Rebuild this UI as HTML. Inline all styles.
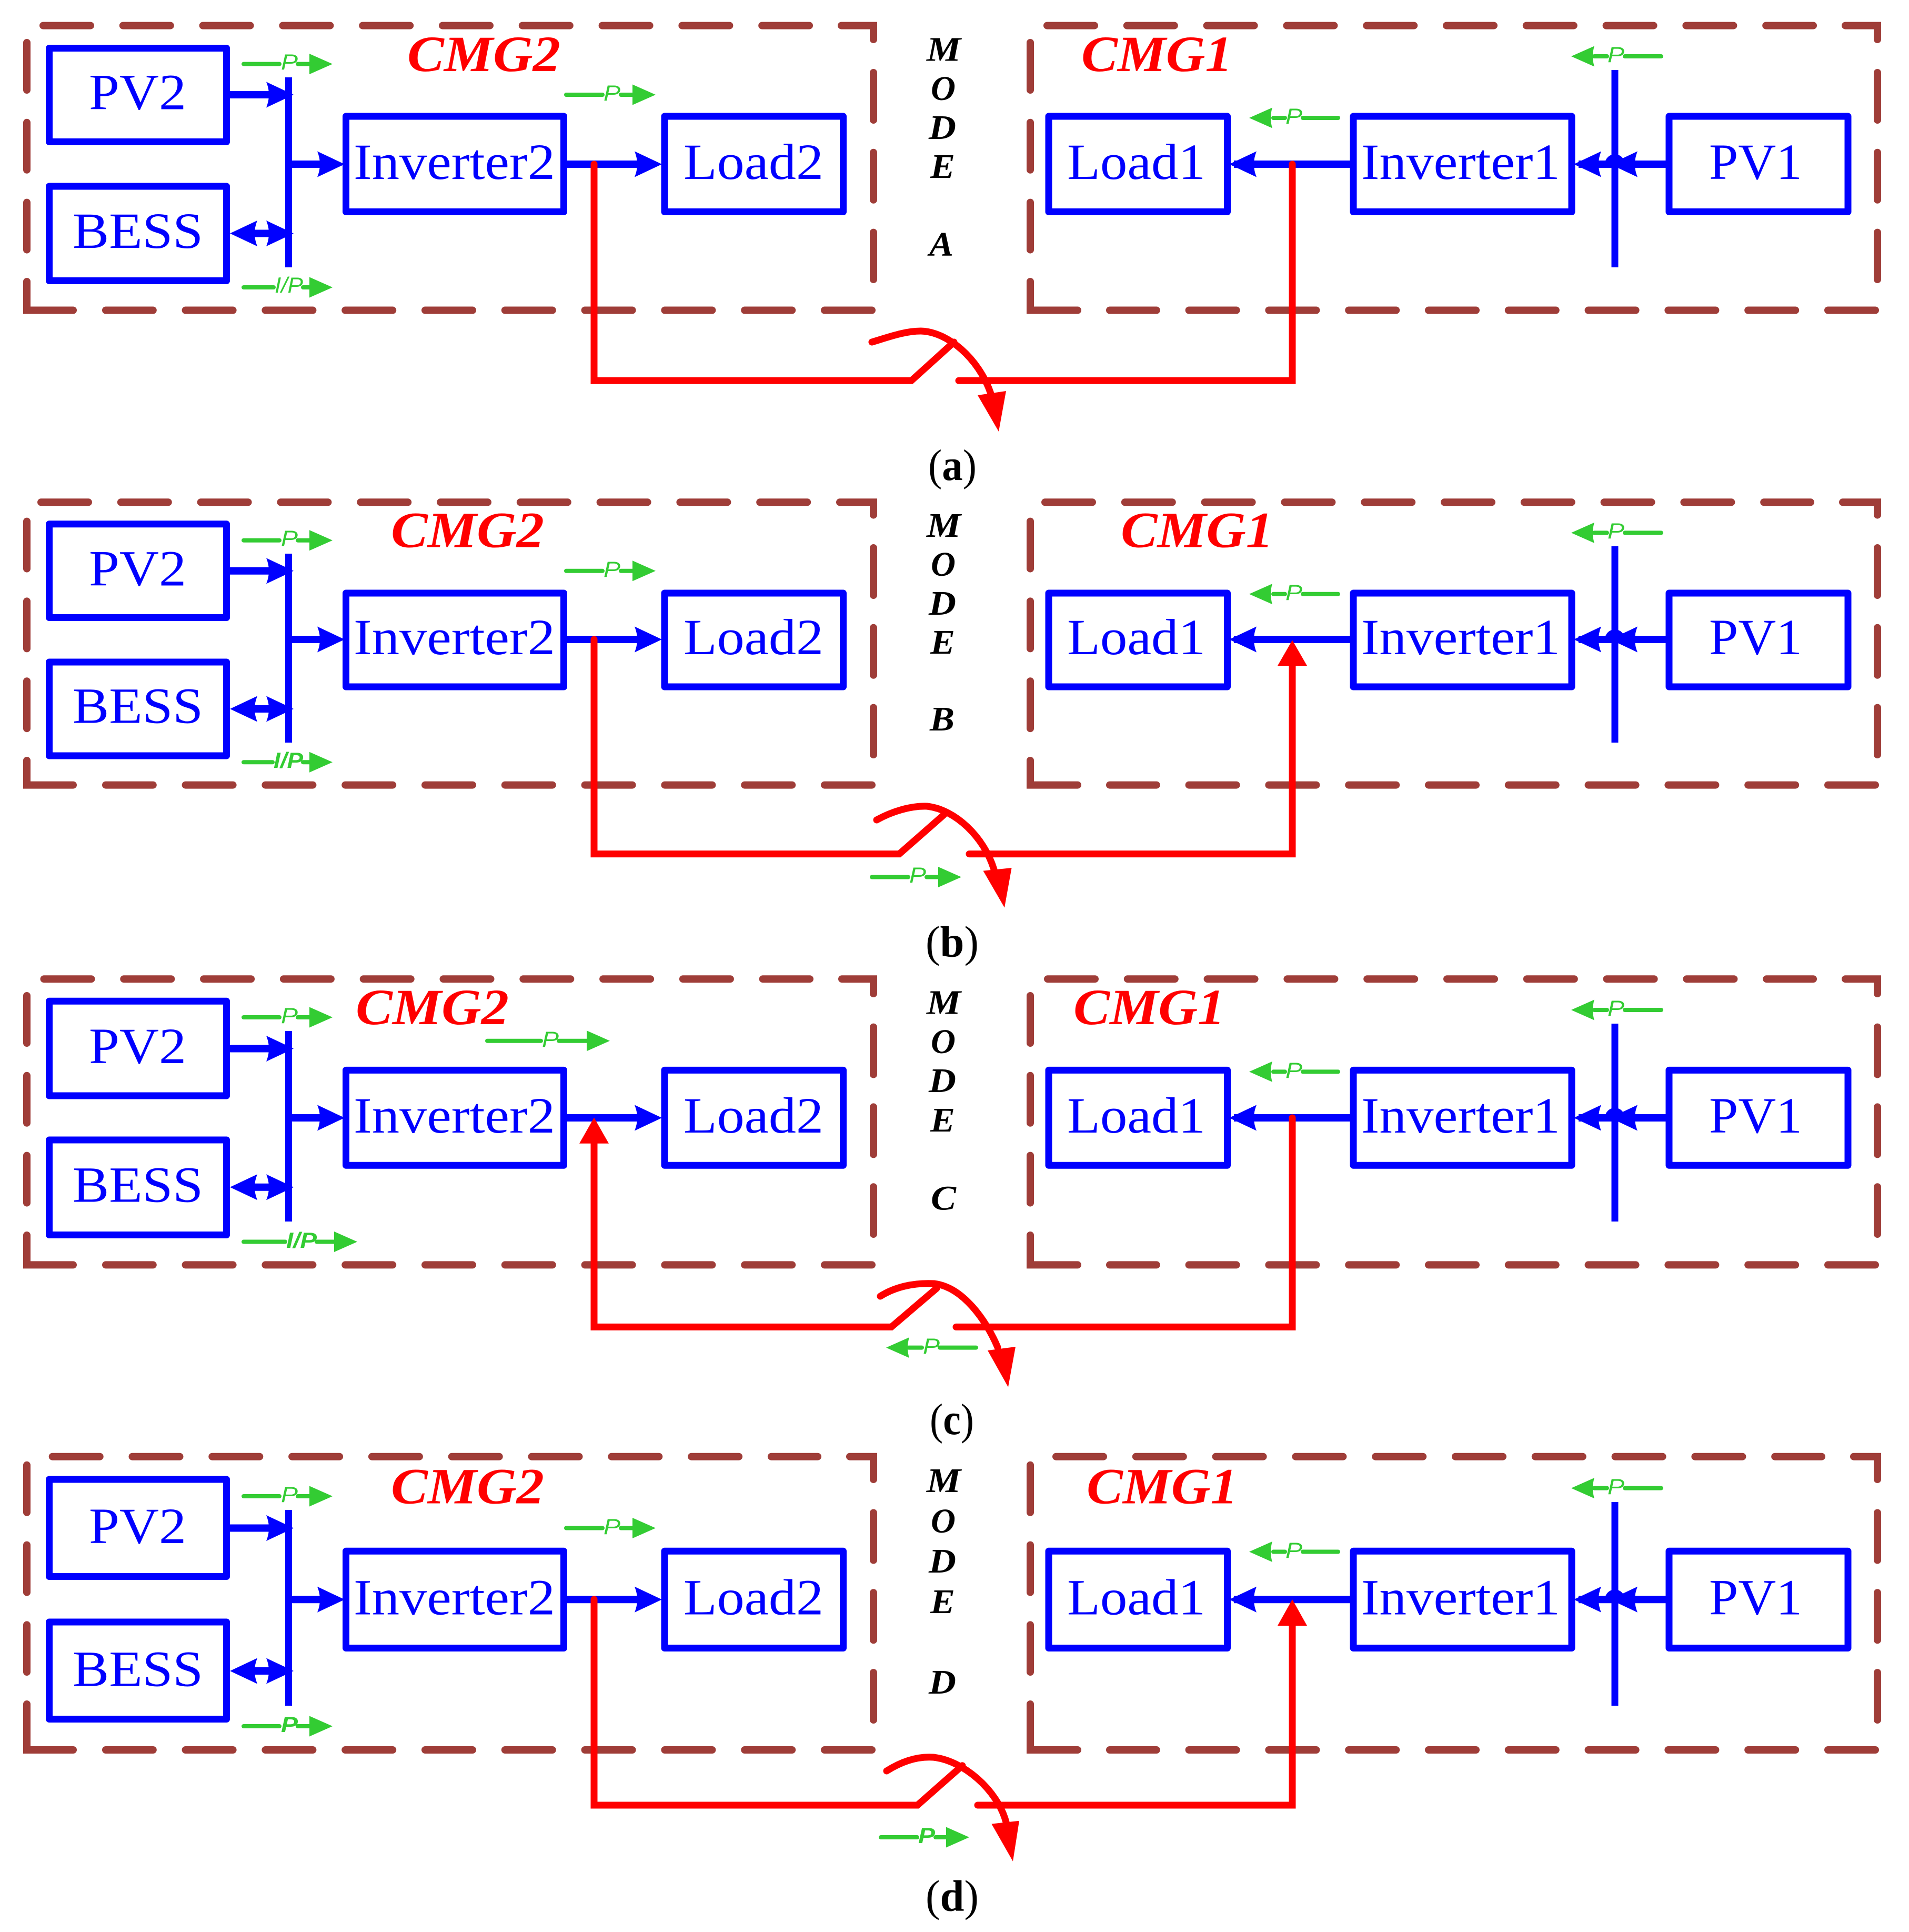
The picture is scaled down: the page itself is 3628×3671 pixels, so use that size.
<!DOCTYPE html>
<html><head><meta charset="utf-8"><title>Modes</title>
<style>html,body{margin:0;padding:0;background:#fff}svg{display:block}
.d,.c{fill:none;stroke:#9f3d38;stroke-width:14;stroke-linecap:round}
.d{stroke-dasharray:90 61.8}
.c{stroke-linejoin:miter;stroke-linecap:round}
.b{fill:none;stroke:#00f;stroke-width:13;stroke-linejoin:round}
.s{fill:none;stroke:#00f;stroke-width:14}
.bus{fill:none;stroke:#00f;stroke-width:13;stroke-linecap:butt}
.r{fill:none;stroke:#f00;stroke-width:13;stroke-linejoin:miter;stroke-linecap:round}
.g{fill:none;stroke:#3c3;stroke-width:8;stroke-linecap:round}
text{font-family:"Liberation Serif",serif}
.t{fill:#00f;font-size:96px}
.cm{fill:#f00;font-size:96px;font-weight:bold;font-style:italic}
.m{fill:#000;font-size:66px;font-weight:bold;font-style:italic}
.cap{fill:#000;font-size:84px}
.p{fill:#3c3;font-size:42px;font-style:italic;font-family:"Liberation Sans",sans-serif}
.pb{fill:#3c3;font-size:42px;font-style:italic;font-weight:bold;font-family:"Liberation Sans",sans-serif}
</style></head><body>
<svg xmlns="http://www.w3.org/2000/svg" width="3628" height="3671" viewBox="0 0 3628 3671">
<rect width="3628" height="3671" fill="#fff"/>
<defs>
<path id="h" d="M0 0L-52-24.5Q-42 0-52 24.5Z" fill="#00f"/>
<path id="gr" d="M0 0L-44-19.5V19.5Z" fill="#3c3"/>
<path id="gl" d="M0 0L44-19.5Q38 0 44 19.5Z" fill="#3c3"/>
</defs>

<!-- PANEL A -->
<g>
<path class="d" d="M1657 589.5H201"/><path class="c" d="M139 589.5H51V535"/><path class="d" d="M51 81V475"/>
<path class="d" d="M82 48.6H1538"/><path class="c" d="M1599 48.6H1660V75"/><path class="d" d="M1660 138V531"/>
<path class="d" d="M3564 589.5H2109"/><path class="c" d="M2048 589.5H1958V535"/><path class="d" d="M1958 81V475"/>
<path class="d" d="M1990 48.6H3446"/><path class="c" d="M3507 48.6H3568V75"/><path class="d" d="M3568 138V531"/>
<rect class="b" x="93.5" y="91.5" width="337" height="178"/><rect class="b" x="93.5" y="354" width="337" height="179.5"/>
<rect class="b" x="657.5" y="221" width="414" height="181.5"/><rect class="b" x="1263" y="221" width="339.5" height="181.5"/>
<rect class="b" x="1993" y="221" width="339.5" height="181.5"/><rect class="b" x="2572" y="221" width="415" height="181.5"/><rect class="b" x="3172" y="221" width="340" height="181.5"/>
<path class="bus" d="M548.5 147V508M3069 133V508"/>
<path class="s" d="M437 180H515M555 312H610M470 443.5H520M1078 312H1215M2345 312H2566M3000 312H3070M3100 312H3166"/>
<use href="#h" transform="translate(558 180)"/><use href="#h" transform="translate(655 312)"/>
<use href="#h" transform="translate(558 443.5)"/><use href="#h" transform="translate(437 443.5) scale(-1 1)"/>
<use href="#h" transform="translate(1258 312)"/><use href="#h" transform="translate(2336 312) scale(-1 1)"/>
<use href="#h" transform="translate(2991 312) scale(-1 1)"/><use href="#h" transform="translate(3060 312) scale(-1 1)"/>
<path d="M3050 312A19 19 0 0 1 3088 312Z" fill="#00f"/>
<text class="t" x="169" y="207.5" textLength="185" lengthAdjust="spacingAndGlyphs">PV2</text>
<text class="t" x="138" y="471" textLength="248" lengthAdjust="spacingAndGlyphs">BESS</text>
<text class="t" x="672" y="340" textLength="383" lengthAdjust="spacingAndGlyphs">Inverter2</text>
<text class="t" x="1299" y="340" textLength="266" lengthAdjust="spacingAndGlyphs">Load2</text>
<text class="t" x="2028" y="340" textLength="263" lengthAdjust="spacingAndGlyphs">Load1</text>
<text class="t" x="2587" y="340" textLength="378" lengthAdjust="spacingAndGlyphs">Inverter1</text>
<text class="t" x="3248" y="340" textLength="177" lengthAdjust="spacingAndGlyphs">PV1</text>
<text class="cm" x="774" y="135" textLength="291" lengthAdjust="spacingAndGlyphs">CMG2</text>
<text class="cm" x="2055" y="135" textLength="287" lengthAdjust="spacingAndGlyphs">CMG1</text>
<text class="m" x="1761" y="115.6" textLength="65" lengthAdjust="spacingAndGlyphs">M</text>
<text class="m" x="1769" y="190" textLength="47" lengthAdjust="spacingAndGlyphs">O</text>
<text class="m" x="1765" y="264" textLength="52" lengthAdjust="spacingAndGlyphs">D</text>
<text class="m" x="1768" y="338" textLength="47" lengthAdjust="spacingAndGlyphs">E</text>
<text class="m" x="1766" y="486" textLength="46" lengthAdjust="spacingAndGlyphs">A</text>
<path class="g" d="M463 121.6H531M566 121.6H590M463 546H520M576 546H590M1076 180H1145M1180 180H1203M2420 224H2442M2476 224H2543M3030 107H3054M3088 107H3157"/>
<use href="#gr" transform="translate(632 121.6)"/><use href="#gr" transform="translate(632 546)"/><use href="#gr" transform="translate(1246 180)"/>
<use href="#gl" transform="translate(2374 224)"/><use href="#gl" transform="translate(2986 107)"/>
<text class="p" x="534" y="132" textLength="32" lengthAdjust="spacingAndGlyphs">P</text>
<text class="p" x="522" y="556" textLength="54" lengthAdjust="spacingAndGlyphs">I/P</text>
<text class="p" x="1147" y="191" textLength="32" lengthAdjust="spacingAndGlyphs">P</text>
<text class="p" x="2443" y="235" textLength="32" lengthAdjust="spacingAndGlyphs">P</text>
<text class="p" x="3055" y="118" textLength="32" lengthAdjust="spacingAndGlyphs">P</text>
<path class="r" d="M1129 312V723.3H1732L1813 650"/><path class="r" d="M1822 723.3H2456V312"/>
<path class="r" d="M1657 650C1690 640 1720 629 1750 629C1800 630 1860 680 1883 748"/>
<path d="M1858 751L1898 820L1912 743Z" fill="#f00"/>
<text class="cap" x="1764" y="912" textLength="92" lengthAdjust="spacingAndGlyphs">(<tspan font-weight="bold">a</tspan>)</text>
</g>

<!-- PANEL B -->
<g>
<path class="d" d="M1657 1491.6H201"/><path class="c" d="M139 1491.6H51V1445"/><path class="d" d="M51 990.6V1385"/>
<path class="d" d="M78 954.3H1535"/><path class="c" d="M1596 954.3H1660V978.6"/><path class="d" d="M1660 1041V1434"/>
<path class="d" d="M3564 1491.6H2109"/><path class="c" d="M2048 1491.6H1958V1445"/><path class="d" d="M1958 990.6V1385"/>
<path class="d" d="M1986 954.3H3441"/><path class="c" d="M3502 954.3H3568V978.6"/><path class="d" d="M3568 1041V1434"/>
<rect class="b" x="93.5" y="995.8" width="337" height="177.7"/><rect class="b" x="93.5" y="1258" width="337" height="178"/>
<rect class="b" x="657.5" y="1127" width="414" height="178"/><rect class="b" x="1263" y="1127" width="339.5" height="178"/>
<rect class="b" x="1993" y="1127" width="339.5" height="178"/><rect class="b" x="2572" y="1127" width="415" height="178"/><rect class="b" x="3172" y="1127" width="340" height="178"/>
<path class="bus" d="M548.5 1052V1411M3069 1038V1411"/>
<path class="s" d="M437 1084.8H515M555 1215H610M470 1347H520M1078 1215H1215M2345 1215H2566M3000 1215H3070M3100 1215H3166"/>
<use href="#h" transform="translate(558 1084.8)"/><use href="#h" transform="translate(655 1215)"/>
<use href="#h" transform="translate(558 1347)"/><use href="#h" transform="translate(437 1347) scale(-1 1)"/>
<use href="#h" transform="translate(1258 1215)"/><use href="#h" transform="translate(2336 1215) scale(-1 1)"/>
<use href="#h" transform="translate(2991 1215) scale(-1 1)"/><use href="#h" transform="translate(3060 1215) scale(-1 1)"/>
<path d="M3050 1215A19 19 0 0 1 3088 1215Z" fill="#00f"/>
<text class="t" x="169" y="1112.6" textLength="185" lengthAdjust="spacingAndGlyphs">PV2</text>
<text class="t" x="138" y="1373.6" textLength="248" lengthAdjust="spacingAndGlyphs">BESS</text>
<text class="t" x="672" y="1243" textLength="383" lengthAdjust="spacingAndGlyphs">Inverter2</text>
<text class="t" x="1299" y="1243" textLength="266" lengthAdjust="spacingAndGlyphs">Load2</text>
<text class="t" x="2028" y="1243" textLength="263" lengthAdjust="spacingAndGlyphs">Load1</text>
<text class="t" x="2587" y="1243" textLength="378" lengthAdjust="spacingAndGlyphs">Inverter1</text>
<text class="t" x="3248" y="1243" textLength="177" lengthAdjust="spacingAndGlyphs">PV1</text>
<text class="cm" x="743" y="1039.7" textLength="291" lengthAdjust="spacingAndGlyphs">CMG2</text>
<text class="cm" x="2130" y="1039.7" textLength="290" lengthAdjust="spacingAndGlyphs">CMG1</text>
<text class="m" x="1761" y="1020" textLength="65" lengthAdjust="spacingAndGlyphs">M</text>
<text class="m" x="1769" y="1094" textLength="47" lengthAdjust="spacingAndGlyphs">O</text>
<text class="m" x="1765" y="1168" textLength="52" lengthAdjust="spacingAndGlyphs">D</text>
<text class="m" x="1768" y="1242" textLength="47" lengthAdjust="spacingAndGlyphs">E</text>
<text class="m" x="1767" y="1388" textLength="47" lengthAdjust="spacingAndGlyphs">B</text>
<path class="g" d="M463 1026.7H531M566 1026.7H590M463 1448.3H518M576 1448.3H590M1076 1084.8H1145M1180 1084.8H1203M2420 1128.7H2442M2476 1128.7H2543M3030 1012.4H3054M3088 1012.4H3157M1657 1666.5H1726M1761 1666.5H1784"/>
<use href="#gr" transform="translate(632 1026.7)"/><use href="#gr" transform="translate(632 1448.3)"/><use href="#gr" transform="translate(1246 1084.8)"/><use href="#gr" transform="translate(1827 1666.5)"/>
<use href="#gl" transform="translate(2374 1128.7)"/><use href="#gl" transform="translate(2986 1012.4)"/>
<text class="p" x="534" y="1037" textLength="32" lengthAdjust="spacingAndGlyphs">P</text>
<text class="pb" x="520" y="1459" textLength="56" lengthAdjust="spacingAndGlyphs">I/P</text>
<text class="p" x="1147" y="1096" textLength="32" lengthAdjust="spacingAndGlyphs">P</text>
<text class="p" x="2443" y="1140" textLength="32" lengthAdjust="spacingAndGlyphs">P</text>
<text class="p" x="3055" y="1023" textLength="32" lengthAdjust="spacingAndGlyphs">P</text>
<text class="p" x="1728" y="1677" textLength="32" lengthAdjust="spacingAndGlyphs">P</text>
<path class="r" d="M1129 1215V1622.6H1709L1794 1548"/><path class="r" d="M1842 1622.6H2456V1260"/>
<path d="M2456 1216.4L2428 1265H2484Z" fill="#f00"/>
<path class="r" d="M1666 1558C1695 1542 1730 1531 1762 1532C1815 1538 1870 1590 1889 1652"/>
<path d="M1868.5 1654.6L1909 1724.6L1922.6 1649Z" fill="#f00"/>
<text class="cap" x="1759" y="1817.7" textLength="101" lengthAdjust="spacingAndGlyphs">(<tspan font-weight="bold">b</tspan>)</text>
</g>

<!-- PANEL C -->
<g>
<path class="d" d="M1657 2403.4H201"/><path class="c" d="M139 2403.4H51V2347"/><path class="d" d="M51 1892V2286"/>
<path class="d" d="M83.5 1860.2H1539"/><path class="c" d="M1600 1860.2H1660V1888"/><path class="d" d="M1660 1951.6V2345"/>
<path class="d" d="M3564 2403.4H2109"/><path class="c" d="M2048 2403.4H1958V2347"/><path class="d" d="M1958 1892V2286"/>
<path class="d" d="M1991 1860.2H3446"/><path class="c" d="M3507 1860.2H3568V1888"/><path class="d" d="M3568 1951.6V2345"/>
<rect class="b" x="93.5" y="1902.3" width="337" height="179.7"/><rect class="b" x="93.5" y="2166" width="337" height="180.5"/>
<rect class="b" x="657.5" y="2033.4" width="414" height="180.9"/><rect class="b" x="1263" y="2033.4" width="339.5" height="180.9"/>
<rect class="b" x="1993" y="2033.4" width="339.5" height="180.9"/><rect class="b" x="2572" y="2033.4" width="415" height="180.9"/><rect class="b" x="3172" y="2033.4" width="340" height="180.9"/>
<path class="bus" d="M548.5 1959V2321M3069 1945V2321"/>
<path class="s" d="M437 1992.5H515M555 2124H610M470 2255.8H520M1078 2124H1215M2345 2124H2566M3000 2124H3070M3100 2124H3166"/>
<use href="#h" transform="translate(558 1992.5)"/><use href="#h" transform="translate(655 2124)"/>
<use href="#h" transform="translate(558 2255.8)"/><use href="#h" transform="translate(437 2255.8) scale(-1 1)"/>
<use href="#h" transform="translate(1258 2124)"/><use href="#h" transform="translate(2336 2124) scale(-1 1)"/>
<use href="#h" transform="translate(2991 2124) scale(-1 1)"/><use href="#h" transform="translate(3060 2124) scale(-1 1)"/>
<path d="M3050 2124A19 19 0 0 1 3088 2124Z" fill="#00f"/>
<text class="t" x="169" y="2019.8" textLength="185" lengthAdjust="spacingAndGlyphs">PV2</text>
<text class="t" x="138" y="2283.6" textLength="248" lengthAdjust="spacingAndGlyphs">BESS</text>
<text class="t" x="672" y="2152" textLength="383" lengthAdjust="spacingAndGlyphs">Inverter2</text>
<text class="t" x="1299" y="2152" textLength="266" lengthAdjust="spacingAndGlyphs">Load2</text>
<text class="t" x="2028" y="2152" textLength="263" lengthAdjust="spacingAndGlyphs">Load1</text>
<text class="t" x="2587" y="2152" textLength="378" lengthAdjust="spacingAndGlyphs">Inverter1</text>
<text class="t" x="3248" y="2152" textLength="177" lengthAdjust="spacingAndGlyphs">PV1</text>
<text class="cm" x="676" y="1946" textLength="291" lengthAdjust="spacingAndGlyphs">CMG2</text>
<text class="cm" x="2040" y="1946" textLength="288" lengthAdjust="spacingAndGlyphs">CMG1</text>
<text class="m" x="1761" y="1926.7" textLength="65" lengthAdjust="spacingAndGlyphs">M</text>
<text class="m" x="1769" y="2000.8" textLength="47" lengthAdjust="spacingAndGlyphs">O</text>
<text class="m" x="1765" y="2075" textLength="52" lengthAdjust="spacingAndGlyphs">D</text>
<text class="m" x="1768" y="2150" textLength="47" lengthAdjust="spacingAndGlyphs">E</text>
<text class="m" x="1769" y="2298.5" textLength="48" lengthAdjust="spacingAndGlyphs">C</text>
<path class="g" d="M463 1933H531M566 1933H590M463 2359.5H542M602 2359.5H640M926 1977.7H1028M1062 1977.7H1118M2420 2036.4H2442M2476 2036.4H2543M3030 1919H3054M3088 1919H3157M1727 2560.6H1752M1786 2560.6H1855"/>
<use href="#gr" transform="translate(632 1933)"/><use href="#gr" transform="translate(679 2359.5)"/><use href="#gr" transform="translate(1159 1977.7)"/>
<use href="#gl" transform="translate(2374 2036.4)"/><use href="#gl" transform="translate(2986 1919)"/><use href="#gl" transform="translate(1684 2560.6)"/>
<text class="p" x="534" y="1944" textLength="32" lengthAdjust="spacingAndGlyphs">P</text>
<text class="pb" x="544" y="2371" textLength="58" lengthAdjust="spacingAndGlyphs">I/P</text>
<text class="p" x="1030" y="1989" textLength="32" lengthAdjust="spacingAndGlyphs">P</text>
<text class="p" x="2443" y="2048" textLength="32" lengthAdjust="spacingAndGlyphs">P</text>
<text class="p" x="3055" y="1930" textLength="32" lengthAdjust="spacingAndGlyphs">P</text>
<text class="p" x="1754" y="2572" textLength="32" lengthAdjust="spacingAndGlyphs">P</text>
<path class="r" d="M1129 2170V2521.4H1694L1780 2448"/><path class="r" d="M1817 2521.4H2456V2124"/>
<path d="M1129 2123.5L1101 2172.8H1157Z" fill="#f00"/>
<path class="r" d="M1673 2463C1700 2446 1735 2437 1775 2439C1830 2445 1875 2510 1896 2560"/>
<path d="M1877 2566L1916 2635.6L1930 2559Z" fill="#f00"/>
<text class="cap" x="1767" y="2725" textLength="84" lengthAdjust="spacingAndGlyphs">(<tspan font-weight="bold">c</tspan>)</text>
</g>

<!-- PANEL D -->
<g>
<path class="d" d="M1657 3325H201"/><path class="c" d="M139 3325H51V3238"/><path class="d" d="M51 2783.8V3177"/>
<path class="d" d="M99.7 2767.7H1554"/><path class="c" d="M1615 2767.7H1660V2811"/><path class="d" d="M1660 2874.5V3268"/>
<path class="d" d="M3564 3325H2109"/><path class="c" d="M2048 3325H1958V3238"/><path class="d" d="M1958 2783.8V3177"/>
<path class="d" d="M2007 2767.7H3462"/><path class="c" d="M3523 2767.7H3568V2811"/><path class="d" d="M3568 2874.5V3268"/>
<rect class="b" x="93.5" y="2811" width="337" height="184.5"/><rect class="b" x="93.5" y="3082" width="337" height="184.5"/>
<rect class="b" x="657.5" y="2947.3" width="414" height="184.2"/><rect class="b" x="1263" y="2947.3" width="339.5" height="184.2"/>
<rect class="b" x="1993" y="2947.3" width="339.5" height="184.2"/><rect class="b" x="2572" y="2947.3" width="415" height="184.2"/><rect class="b" x="3172" y="2947.3" width="340" height="184.2"/>
<path class="bus" d="M548.5 2869V3241M3069 2854V3241"/>
<path class="s" d="M437 2903.5H515M555 3039.3H610M470 3175H520M1078 3039.3H1215M2345 3039.3H2566M3000 3039.3H3070M3100 3039.3H3166"/>
<use href="#h" transform="translate(558 2903.5)"/><use href="#h" transform="translate(655 3039.3)"/>
<use href="#h" transform="translate(558 3175)"/><use href="#h" transform="translate(437 3175) scale(-1 1)"/>
<use href="#h" transform="translate(1258 3039.3)"/><use href="#h" transform="translate(2336 3039.3) scale(-1 1)"/>
<use href="#h" transform="translate(2991 3039.3) scale(-1 1)"/><use href="#h" transform="translate(3060 3039.3) scale(-1 1)"/>
<path d="M3050 3039.3A19 19 0 0 1 3088 3039.3Z" fill="#00f"/>
<text class="t" x="169" y="2932" textLength="185" lengthAdjust="spacingAndGlyphs">PV2</text>
<text class="t" x="138" y="3203.5" textLength="248" lengthAdjust="spacingAndGlyphs">BESS</text>
<text class="t" x="672" y="3067.7" textLength="383" lengthAdjust="spacingAndGlyphs">Inverter2</text>
<text class="t" x="1299" y="3067.7" textLength="266" lengthAdjust="spacingAndGlyphs">Load2</text>
<text class="t" x="2028" y="3067.7" textLength="263" lengthAdjust="spacingAndGlyphs">Load1</text>
<text class="t" x="2587" y="3067.7" textLength="378" lengthAdjust="spacingAndGlyphs">Inverter1</text>
<text class="t" x="3248" y="3067.7" textLength="177" lengthAdjust="spacingAndGlyphs">PV1</text>
<text class="cm" x="743" y="2856.6" textLength="291" lengthAdjust="spacingAndGlyphs">CMG2</text>
<text class="cm" x="2065" y="2856.6" textLength="287" lengthAdjust="spacingAndGlyphs">CMG1</text>
<text class="m" x="1761" y="2835" textLength="65" lengthAdjust="spacingAndGlyphs">M</text>
<text class="m" x="1769" y="2911.8" textLength="47" lengthAdjust="spacingAndGlyphs">O</text>
<text class="m" x="1765" y="2988" textLength="52" lengthAdjust="spacingAndGlyphs">D</text>
<text class="m" x="1768" y="3065" textLength="47" lengthAdjust="spacingAndGlyphs">E</text>
<text class="m" x="1765" y="3218" textLength="52" lengthAdjust="spacingAndGlyphs">D</text>
<path class="g" d="M463 2843H531M566 2843H590M463 3280H531M566 3280H590M1076 2903.5H1145M1180 2903.5H1203M2420 2948.5H2442M2476 2948.5H2543M3030 2827.6H3054M3088 2827.6H3157M1674 3491H1743M1778 3491H1800"/>
<use href="#gr" transform="translate(632 2843)"/><use href="#gr" transform="translate(632 3280)"/><use href="#gr" transform="translate(1246 2903.5)"/><use href="#gr" transform="translate(1842 3491)"/>
<use href="#gl" transform="translate(2374 2948.5)"/><use href="#gl" transform="translate(2986 2827.6)"/>
<text class="p" x="534" y="2854" textLength="32" lengthAdjust="spacingAndGlyphs">P</text>
<text class="pb" x="534" y="3291" textLength="32" lengthAdjust="spacingAndGlyphs">P</text>
<text class="p" x="1147" y="2915" textLength="32" lengthAdjust="spacingAndGlyphs">P</text>
<text class="p" x="2443" y="2960" textLength="32" lengthAdjust="spacingAndGlyphs">P</text>
<text class="p" x="3055" y="2839" textLength="32" lengthAdjust="spacingAndGlyphs">P</text>
<text class="pb" x="1745" y="3502" textLength="32" lengthAdjust="spacingAndGlyphs">P</text>
<path class="r" d="M1129 3039V3430H1743.6L1829 3354.8"/><path class="r" d="M1858 3430H2456V3085"/>
<path d="M2456 3039L2428 3089H2484Z" fill="#f00"/>
<path class="r" d="M1685 3365C1715 3346 1745 3337 1774 3339C1830 3345 1895 3400 1912 3462"/>
<path d="M1884.4 3465.6L1925 3536.8L1937 3459.7Z" fill="#f00"/>
<text class="cap" x="1759" y="3630.5" textLength="101" lengthAdjust="spacingAndGlyphs">(<tspan font-weight="bold">d</tspan>)</text>
</g>
</svg>
</body></html>
